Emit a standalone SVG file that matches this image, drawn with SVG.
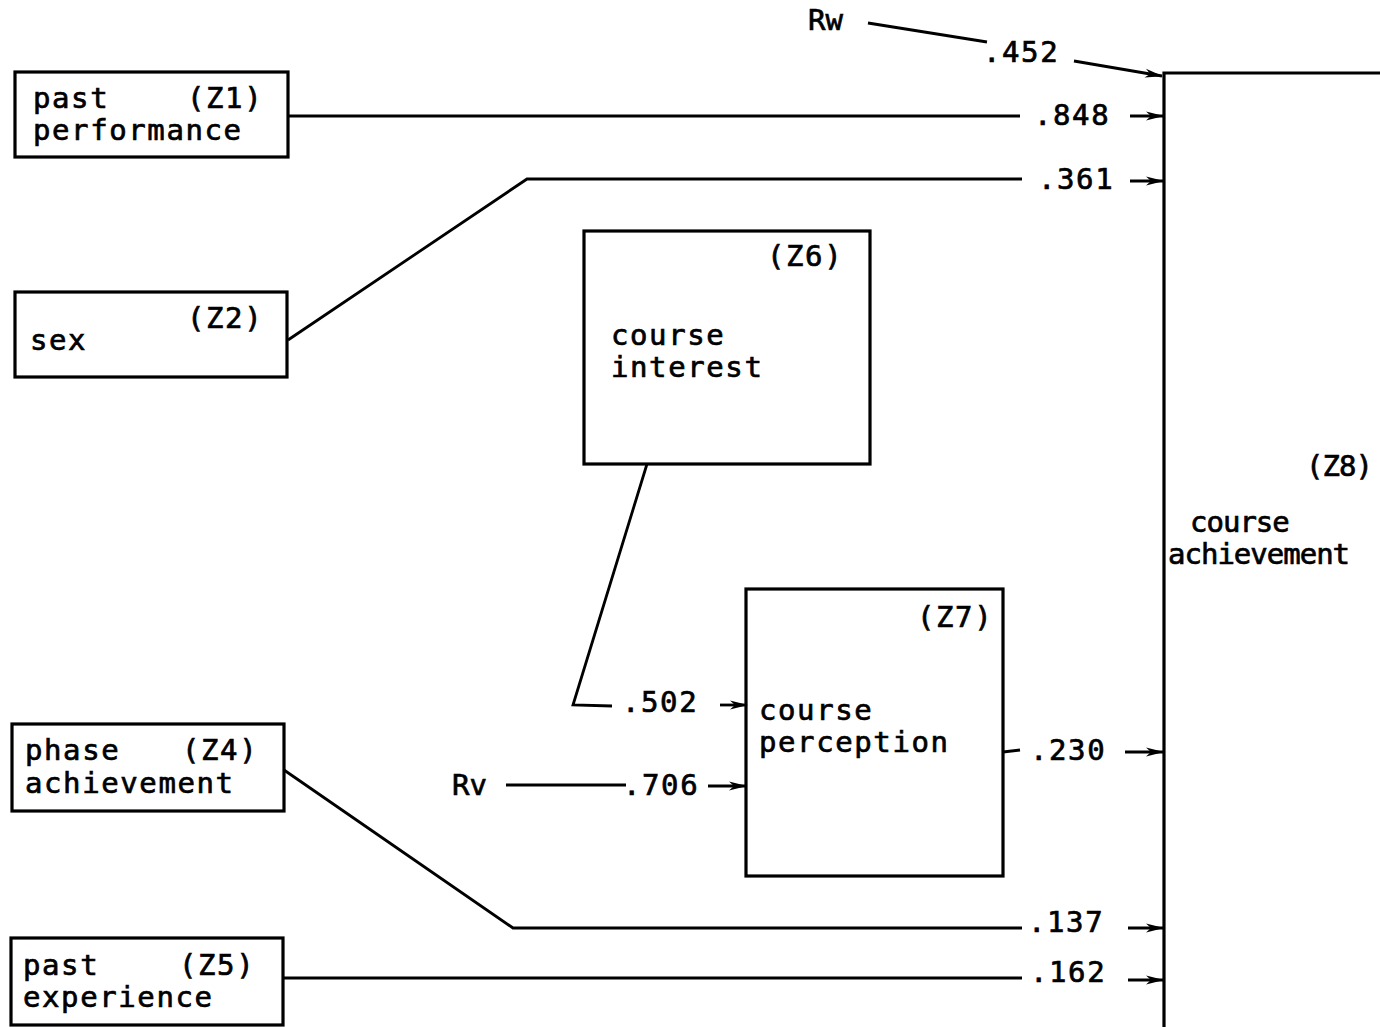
<svg xmlns="http://www.w3.org/2000/svg" width="1380" height="1027" viewBox="0 0 1380 1027">
<style>
.box{fill:none;stroke:#000;stroke-width:3.2}
.ln{fill:none;stroke:#000;stroke-width:2.8}
.ar{fill:none;stroke:#000;stroke-width:2.8;marker-end:url(#ah)}
text{font-family:"DejaVu Sans Mono","Liberation Mono",monospace;font-size:29px;fill:#000;stroke:#000;stroke-width:0.7;letter-spacing:1.6px}
.z8{letter-spacing:-1px}
</style>
<defs>
<marker id="ah" viewBox="0 0 18 12" refX="17" refY="6" markerWidth="18" markerHeight="12" markerUnits="userSpaceOnUse" orient="auto">
<path d="M0,1.5 L18,6 L0,10.5 L5,6 Z" fill="#000"/>
</marker>
</defs>
<rect width="1380" height="1027" fill="#fff" stroke="none"/>
<g id="z1">
<rect class="box" x="15" y="72" width="273" height="85"/>
<text x="33" y="108">past</text>
<text x="187" y="108">(Z1)</text>
<text x="33" y="140">performance</text>
</g>
<g id="z2">
<rect class="box" x="15" y="292" width="272" height="85"/>
<text x="187" y="328">(Z2)</text>
<text x="30" y="350">sex</text>
</g>
<g id="z6">
<rect class="box" x="584" y="231" width="286" height="233"/>
<text x="767" y="266">(Z6)</text>
<text x="611" y="345">course</text>
<text x="611" y="377">interest</text>
</g>
<g id="z7">
<rect class="box" x="746" y="589" width="257" height="287"/>
<text x="917" y="627">(Z7)</text>
<text x="759" y="720">course</text>
<text x="759" y="752">perception</text>
</g>
<g id="z4">
<rect class="box" x="12" y="724" width="272" height="87"/>
<text x="25" y="760">phase</text>
<text x="182" y="760">(Z4)</text>
<text x="25" y="793">achievement</text>
</g>
<g id="z5">
<rect class="box" x="11" y="938" width="272" height="87"/>
<text x="23" y="975">past</text>
<text x="179" y="975">(Z5)</text>
<text x="23" y="1007">experience</text>
</g>
<g id="z8">
<path class="box" d="M1164,1030 L1164,73 L1382,73"/>
<text class="z8" x="1306" y="476">(Z8)</text>
<text class="z8" x="1190" y="532">course</text>
<text class="z8" x="1168" y="564">achievement</text>
</g>
<g id="connectors">
<text x="808" y="30" style="letter-spacing:0">Rw</text>
<path class="ln" d="M868,23 L987,42"/>
<text x="983" y="62">.452</text>
<path class="ar" d="M1074,61 L1162,76"/>

<path class="ln" d="M288,116 L1020,116"/>
<text x="1034" y="125">.848</text>
<path class="ar" d="M1130,116 L1163,116"/>

<path class="ln" d="M288,340 L527,179 L1022,179"/>
<text x="1038" y="189">.361</text>
<path class="ar" d="M1130,181 L1163,181"/>

<path class="ln" d="M647,464 L573,705 L612,706"/>
<text x="622" y="712">.502</text>
<path class="ar" d="M720,705 L747,705"/>

<text x="452" y="795" style="letter-spacing:0">Rv</text>
<path class="ln" d="M506,785 L626,785"/>
<text x="623" y="795">.706</text>
<path class="ar" d="M708,786 L746,786"/>

<path class="ln" d="M1003,752 L1020,750"/>
<text x="1030" y="760">.230</text>
<path class="ar" d="M1125,752 L1163,752"/>

<path class="ln" d="M284,770 L513,928 L1022,928"/>
<text x="1028" y="932">.137</text>
<path class="ar" d="M1128,928 L1163,928"/>

<path class="ln" d="M283,978 L1022,978"/>
<text x="1030" y="982">.162</text>
<path class="ar" d="M1128,980 L1163,980"/>
</g>
</svg>
